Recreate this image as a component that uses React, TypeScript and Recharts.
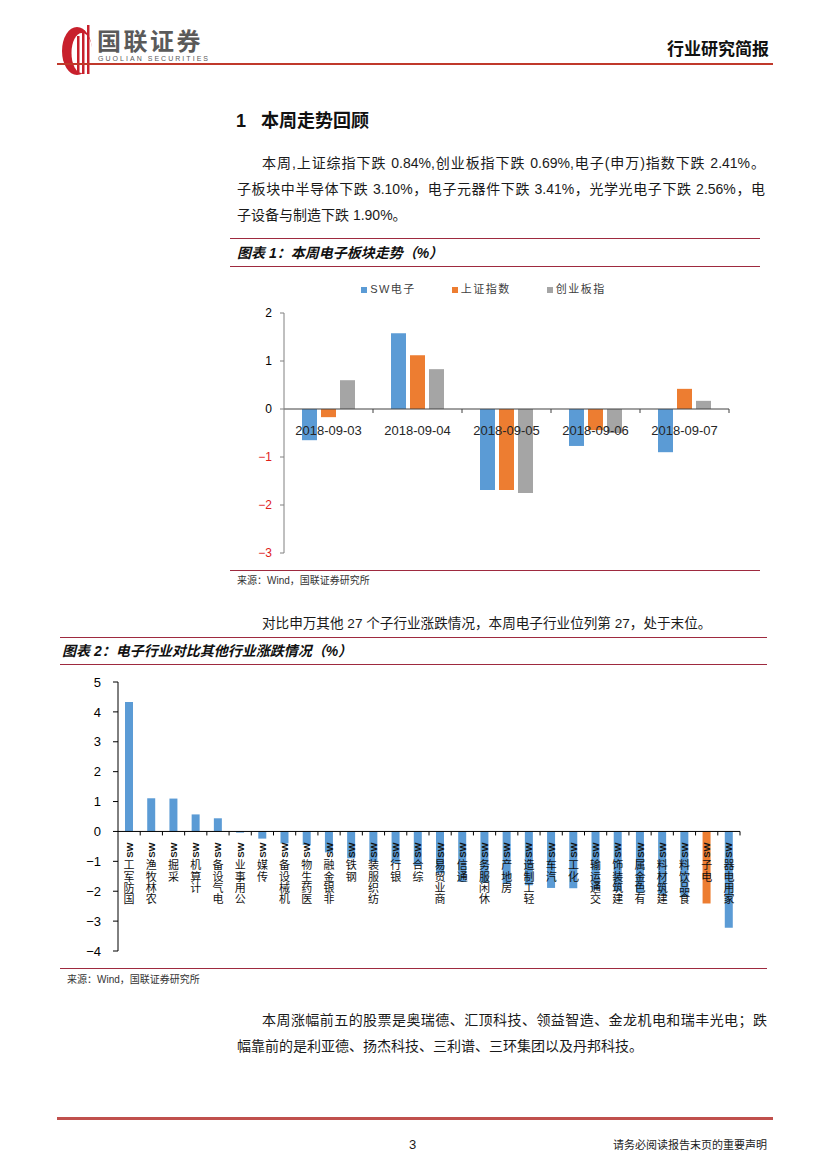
import React from 'react';
import { BarChart, Bar, XAxis, YAxis, Legend, ReferenceLine, Cell } from 'recharts';

// 图表1：本周电子板块走势（%）
const dates = ['2018-09-03', '2018-09-04', '2018-09-05', '2018-09-06', '2018-09-07'];
const swDianzi = [-0.65, 1.58, -1.69, -0.77, -0.9];
const shangzheng = [-0.17, 1.12, -1.69, -0.44, 0.42];
const chuangye = [0.6, 0.83, -1.75, -0.5, 0.17];
const trendTicks = [-3, -2, -1, 0, 1, 2];

// 图表2：电子行业对比其他行业涨跌情况（%）
const industries = [
  '国防军工SW', '农林牧渔SW', '采掘SW', '计算机SW', '电气设备SW', '公用事业SW', '传媒SW',
  '机械设备SW', '医药生物SW', '非银金融SW', '钢铁SW', '纺织服装SW', '银行SW', '综合SW',
  '商业贸易SW', '通信SW', '休闲服务SW', '房地产SW', '轻工制造SW', '汽车SW', '化工SW',
  '交通运输SW', '建筑装饰SW', '有色金属SW', '建筑材料SW', '食品饮料SW', '电子SW', '家用电器SW',
];
const industryChange = [
  4.33, 1.11, 1.1, 0.57, 0.44, -0.04, -0.24,
  -0.4, -0.45, -0.7, -0.9, -1.0, -1.05, -1.15,
  -1.4, -1.69, -1.72, -1.75, -1.8, -1.89, -1.9,
  -1.95, -2.0, -2.05, -2.1, -2.2, -2.41, -3.22,
];
const industryTicks = [-4, -3, -2, -1, 0, 1, 2, 3, 4, 5];
const highlight = '电子SW';

const trendData = dates.map((d, i) => ({ date: d, sw: swDianzi[i], sh: shangzheng[i], cy: chuangye[i] }));
const industryData = industries.map((name, i) => ({ name, value: industryChange[i] }));

const BLUE = '#5B9BD5';
const ORANGE = '#ED7D31';
const GRAY = '#A5A5A5';
const MAROON = '#9E2A3F';
const LATIN = "'Liberation Sans', Arial, sans-serif";
const CJK = "'Liberation Sans', 'Noto Sans CJK SC', sans-serif";

const minus = (v: number) => String(v).replace('-', '−');

function TrendLegend({ payload }: any) {
  return (
    <div style={{ display: 'flex', justifyContent: 'center', gap: 36, paddingLeft: 18, fontFamily: CJK, fontSize: 11, color: '#404040', lineHeight: '23px' }}>
      {(payload || []).map((p: any) => (
        <span key={p.value} style={{ display: 'flex', alignItems: 'center', letterSpacing: 1.5 }}>
          <span style={{ width: 6, height: 6, background: p.color, marginRight: 3, display: 'inline-block' }} />
          {p.value}
        </span>
      ))}
    </div>
  );
}

function TrendYTick({ x, y, payload }: any) {
  const v = payload.value;
  return (
    <text x={x} y={y} dy={4} textAnchor="end" fontSize={12} fontFamily={LATIN} fill={v < 0 ? '#E0201B' : '#000'}>
      {minus(v)}
    </text>
  );
}

function TrendAxisLabels({ viewBox }: any) {
  if (!viewBox) return null;
  const { x, y, width } = viewBox;
  const step = width / dates.length;
  return (
    <g>
      {dates.map((_, i) => (
        <line key={'t' + i} x1={x + step * (i + 1)} x2={x + step * (i + 1)} y1={y} y2={y + 4} stroke="#404040" />
      ))}
      {dates.map((d, i) => (
        <text key={d} x={x + step * (i + 0.5)} y={y + 26} textAnchor="middle" fontSize={13} fontFamily={LATIN} fill="#262626">
          {d}
        </text>
      ))}
    </g>
  );
}

// 竖排标签：SW 逆时针旋转，汉字保持直立，自下而上阅读
function IndustryAxisLabels({ viewBox }: any) {
  if (!viewBox) return null;
  const { x, y, width } = viewBox;
  const step = width / industries.length;
  return (
    <g>
      {industries.map((_, i) => (
        <line key={'t' + i} x1={x + step * (i + 1)} x2={x + step * (i + 1)} y1={y} y2={y + 4} stroke="#000" />
      ))}
      {industries.map((name, i) => {
        const cx = x + step * (i + 0.5);
        const top = y + 11;
        const chars = Array.from(name.replace('SW', '')).reverse().join('');
        return (
          <g key={name}>
            <text x={cx} y={top} transform={`rotate(-90 ${cx} ${top})`} textAnchor="end" dy={3.5} fontSize={9.5} fontWeight="bold" fontFamily={LATIN} fill="#111">
              SW
            </text>
            <text
              x={cx}
              y={top + 17}
              fontSize={11}
              fontFamily="'Noto Sans CJK SC', sans-serif"
              fill="#111"
              style={{ writingMode: 'vertical-rl', letterSpacing: 0.4 }}
            >
              {chars}
            </text>
          </g>
        );
      })}
    </g>
  );
}

function TrendChart() {
  return (
    <BarChart width={530} height={300} data={trendData} margin={{ top: 20, right: 21, bottom: 17, left: 0 }} barSize={15} barGap={4}>
      <Legend verticalAlign="top" height={23} wrapperStyle={{ top: 8 }} content={<TrendLegend />} />
      <XAxis dataKey="date" hide />
      <YAxis
        domain={[-3, 2]}
        ticks={trendTicks}
        width={64}
        axisLine={{ stroke: '#808080' }}
        tickLine={{ stroke: '#808080' }}
        tickSize={4}
        tickMargin={8}
        tick={<TrendYTick />}
      />
      <Bar dataKey="sw" name="SW电子" fill={BLUE} isAnimationActive={false} />
      <Bar dataKey="sh" name="上证指数" fill={ORANGE} isAnimationActive={false} />
      <Bar dataKey="cy" name="创业板指" fill={GRAY} isAnimationActive={false} />
      <ReferenceLine y={0} stroke="#404040" label={(p: any) => <TrendAxisLabels {...p} />} />
    </BarChart>
  );
}

function IndustryChart() {
  return (
    <BarChart width={700} height={300} data={industryData} margin={{ top: 12, right: 20, bottom: 19, left: 0 }} barSize={8}>
      <XAxis dataKey="name" hide />
      <YAxis
        domain={[-4, 5]}
        ticks={industryTicks}
        width={58}
        axisLine={{ stroke: '#000' }}
        tickLine={{ stroke: '#000' }}
        tickSize={5}
        tickMargin={12}
        tickFormatter={minus}
        tick={{ fontSize: 13, fontFamily: LATIN, fill: '#000' }}
      />
      <Bar dataKey="value" isAnimationActive={false}>
        {industryData.map((d) => (
          <Cell key={d.name} fill={d.name === highlight ? ORANGE : BLUE} />
        ))}
      </Bar>
      <ReferenceLine y={0} stroke="#000" label={(p: any) => <IndustryAxisLabels {...p} />} />
    </BarChart>
  );
}

const Rule = ({ x, y, w, color = MAROON, h = 1 }: any) => (
  <div style={{ position: 'absolute', left: x, top: y, width: w, height: h, background: color }} />
);

const Txt = ({ x, y, children, style }: any) => (
  <div style={{ position: 'absolute', left: x, top: y - 11, lineHeight: '22px', whiteSpace: 'nowrap', fontFamily: CJK, fontSize: 14, color: '#1a1a1a', ...style }}>
    {children}
  </div>
);

const Just = ({ x, y, w, children, style }: any) => (
  <div style={{ position: 'absolute', left: x, top: y - 11, width: w, lineHeight: '22px', textAlign: 'justify', textAlignLast: 'justify', fontFamily: CJK, fontSize: 14, color: '#1a1a1a', ...style }}>
    {children}
  </div>
);

function Logo() {
  return (
    <svg width={220} height={60} style={{ position: 'absolute', left: 55, top: 20 }}>
      <ellipse cx={22} cy={31} rx={15} ry={24} fill="#C8202C" />
      <ellipse cx={27} cy={33} rx={10.5} ry={20} fill="#fff" />
      <rect x={22} y={16} width={2.5} height={38} fill="#C8202C" />
      <rect x={27} y={10} width={2.5} height={44} fill="#C8202C" />
      <rect x={32} y={5} width={2.5} height={49} fill="#C8202C" />
      <text x={42} y={30} fontSize={24} fontWeight="bold" fontFamily="'Noto Sans CJK SC', sans-serif" fill="#5a5a5a" letterSpacing={2.5}>
        国联证券
      </text>
      <text x={43} y={41} fontSize={7} fontFamily={LATIN} fill="#5a5a5a" textLength={110}>
        GUOLIAN SECURITIES
      </text>
    </svg>
  );
}

export default function App() {
  return (
    <div style={{ position: 'absolute', left: 0, top: 0, width: 827, height: 1169, background: '#fff', overflow: 'hidden' }}>
      <Logo />
      <Txt x={0} y={50} style={{ left: 'auto', right: 58, fontSize: 17, fontWeight: 'bold', color: '#111' }}>行业研究简报</Txt>
      <Rule x={57} y={63} w={716} h={2} color="#C0392B" />

      <Txt x={236} y={121} style={{ fontSize: 18, fontWeight: 'bold', color: '#111' }}>1&nbsp;&nbsp;&nbsp;本周走势回顾</Txt>
      <Just x={262} y={163} w={503}>本周,上证综指下跌 0.84%,创业板指下跌 0.69%,电子(申万)指数下跌 2.41%。</Just>
      <Just x={237} y={189} w={528}>子板块中半导体下跌 3.10%，电子元器件下跌 3.41%，光学光电子下跌 2.56%，电</Just>
      <Txt x={237} y={215}>子设备与制造下跌 1.90%。</Txt>

      <Rule x={230} y={238} w={530} />
      <Txt x={237} y={253} style={{ fontSize: 14, fontWeight: 'bold', fontStyle: 'italic', color: '#111' }}>图表 1：本周电子板块走势（%）</Txt>
      <Rule x={230} y={266} w={530} />
      <div style={{ position: 'absolute', left: 220, top: 270 }}>
        <TrendChart />
      </div>
      <Rule x={230} y={570} w={530} />
      <Txt x={237} y={581} style={{ fontSize: 10, color: '#333' }}>来源：Wind，国联证券研究所</Txt>

      <Txt x={262} y={624} style={{ fontSize: 13.6 }}>对比申万其他 27 个子行业涨跌情况，本周电子行业位列第 27，处于末位。</Txt>

      <Rule x={60} y={637} w={707} />
      <Txt x={62} y={651} style={{ fontSize: 14, fontWeight: 'bold', fontStyle: 'italic', color: '#111' }}>图表 2：电子行业对比其他行业涨跌情况（%）</Txt>
      <Rule x={60} y={664} w={707} />
      <div style={{ position: 'absolute', left: 60, top: 670 }}>
        <IndustryChart />
      </div>
      <Rule x={60} y={968} w={707} />
      <Txt x={67} y={980} style={{ fontSize: 10, color: '#333' }}>来源：Wind，国联证券研究所</Txt>

      <Just x={262} y={1020} w={505}>本周涨幅前五的股票是奥瑞德、汇顶科技、领益智造、金龙机电和瑞丰光电；跌</Just>
      <Txt x={237} y={1046}>幅靠前的是利亚德、扬杰科技、三利谱、三环集团以及丹邦科技。</Txt>

      <Rule x={57} y={1117} w={716} h={2.5} color="#C0504D" />
      <Txt x={409} y={1145} style={{ fontSize: 13, fontFamily: LATIN }}>3</Txt>
      <Txt x={0} y={1145} style={{ left: 'auto', right: 60, fontSize: 11, color: '#222' }}>请务必阅读报告末页的重要声明</Txt>
    </div>
  );
}
